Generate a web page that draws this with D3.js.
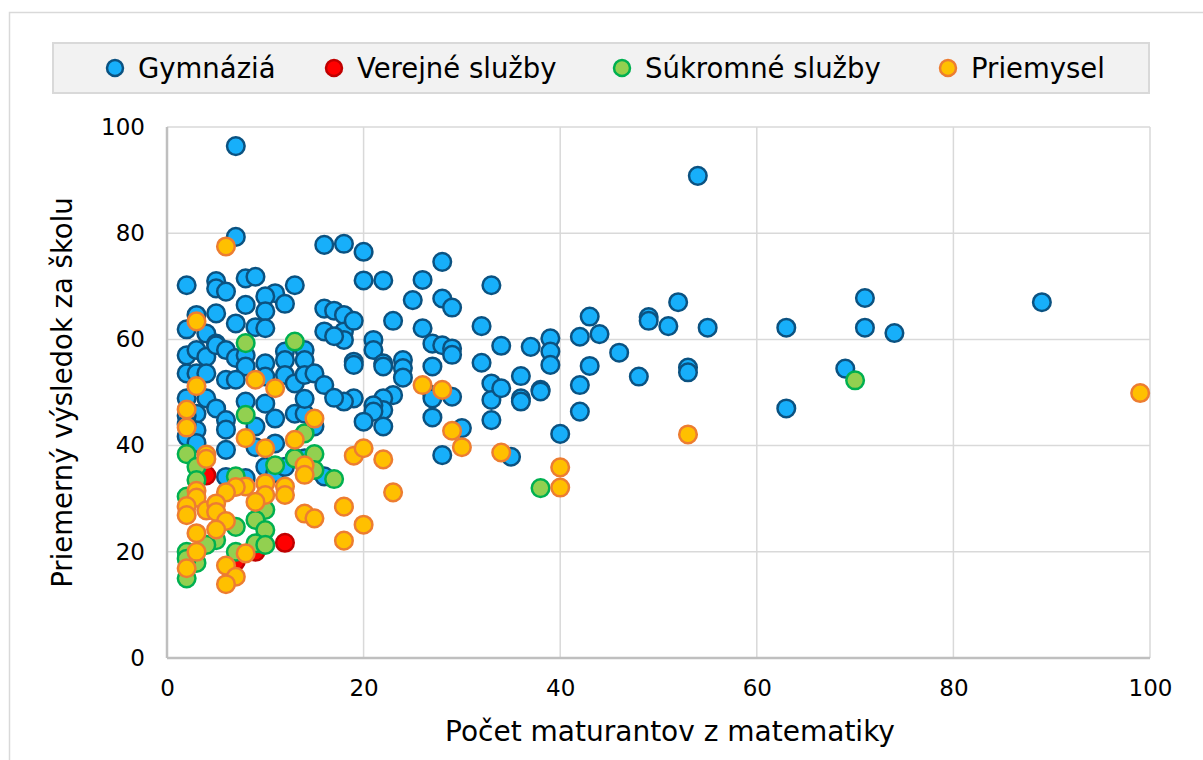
<!DOCTYPE html>
<html>
<head>
<meta charset="utf-8">
<script src="https://cdn.jsdelivr.net/npm/d3@7"></script>
<style>
  html, body { margin: 0; padding: 0; background: #fff; }
  svg { display: block; font-family: "DejaVu Sans", Verdana, sans-serif; }
</style>
</head>
<body>
<svg id="chart" width="1203" height="760"></svg>
<script>
// ---- DATA ----
const seriesNames = ["Gymnáziá", "Verejné služby", "Súkromné služby", "Priemysel"];
const xTicks = [0, 20, 40, 60, 80, 100];
const yTicks = [0, 20, 40, 60, 80, 100];
const xTitle = "Počet maturantov z matematiky";
const yTitle = "Priemerný výsledok za školu";

// [počet maturantov, priemerný výsledok]
const gymnazia = [
  [7,96.4],[7,79.3],[2,70.2],[5,71],[5,69.6],[6,69],[8,71.5],[9,71.8],[13,70.2],[16,77.8],[18,78],
  [11,68.7],[10,68.1],[12,66.7],[8,66.5],[10,65.3],[5,64.9],[3,64.6],[7,63],[2,61.9],[4,61.1],[5,59.2],
  [9,62.3],[10,62.1],[16,65.8],[17,65.4],[18,64.6],[18,61.5],[18,59.9],[16,61.5],[17,60.6],[19,63.5],
  [20,76.5],[28,74.6],[20,71.1],[22,71.1],[26,71.2],[33,70.2],[25,67.4],[28,67.7],[29,66],[23,63.5],
  [26,62.1],[32,62.5],[21,59.9],[21,58],[27,59.2],[28,58.9],[29,58.3],[29,57.1],[34,58.8],[37,58.6],
  [39,60.2],[39,57.7],[39,55.2],[42,60.5],[43,64.3],[19,55.8],[19,55.2],[22,55.5],[22,54.9],[24,56.1],
  [24,54.6],[24,52.8],[27,54.9],[32,55.6],[36,53.1],[43,55],[23,49.5],[22,48.9],[22,46.7],[21,47.6],
  [21,46.4],[19,48.9],[18,48.3],[27,49.5],[27,48.9],[29,49.2],[33,51.7],[33,48.6],[34,50.8],[36,48.9],
  [36,48.3],[38,50.5],[38,50.2],[42,51.4],[42,46.4],[40,42.2],[20,44.5],[22,43.6],[27,45.3],[30,43.3],
  [33,44.8],[28,38.2],[35,37.9],
  [44,61],[46,57.5],[48,53],[49,64.2],[49,63.5],[51,62.5],[52,67],[53,54.7],[53,53.8],[54,90.8],
  [55,62.2],[63,62.2],[63,47],[69,54.5],[71,67.8],[71,62.2],[74,61.2],[89,67],
  [2,57],[3,58],[4,56.7],[5,58.9],[6,58],[7,56.5],[8,57],[8,54.9],[10,55.5],[12,57.7],[12,56.1],
  [14,58],[14,56.1],[2,53.6],[3,53.6],[4,53.6],[6,52.4],[7,52.4],[10,53],[12,53.3],[13,51.7],[14,53.3],
  [15,53.6],[16,51.4],[17,49],[2,48.9],[3,46],[4,48.9],[5,47],[6,44.8],[6,43],[8,48.3],[10,47.9],
  [11,45.1],[9,43.6],[2,45.6],[2,41.7],[3,42.9],[6,39.2],[9,39.7],[11,40.4],[13,46],[14,46],[15,43.6],
  [13,37.7],[10,36],[11,34.8],[16,34.2],[6,34.1],[8,33.9],[12,36],[14,37.6],[14,48.8],[2,44],[3,40.5]
];
const verejne = [[4,34.4],[12,21.7],[7,18.2],[9,20]];
const sukromne = [
  [8,59.3],[13,59.6],[8,45.8],[14,42.3],[2,38.4],[15,38.4],[3,36],[11,36.3],[13,37.6],[15,35.4],
  [17,33.7],[7,34.2],[3,33.5],[2,30.4],[10,27.9],[9,26],[7,24.7],[10,24.1],[5,22.2],[9,21.6],
  [10,21.3],[2,20],[7,20],[3,17.9],[2,15],[4,21.3],[2,18.7],[70,52.3],[38,32]
];
const priemysel = [
  [6,77.5],[3,63.4],[3,51.2],[9,52.4],[11,50.8],[2,46.8],[2,43.4],[15,45.1],[8,41.4],[13,41.1],
  [10,39.5],[4,38.3],[4,37.5],[14,36.3],[14,34.5],[10,32.9],[12,32.3],[12,30.7],[10,30.7],[8,32.3],
  [7,32.2],[6,31.2],[9,29.4],[3,31.5],[3,30.2],[2,28.6],[2,26.9],[4,27.8],[5,29.1],[5,27.5],[6,25.8],
  [5,24.2],[3,23.5],[3,20],[8,19.7],[2,16.9],[6,17.4],[7,15.3],[6,13.9],[18,28.5],[14,27.2],[15,26.3],
  [18,22.1],[19,38.1],[20,39.5],[22,37.4],[23,31.2],[20,25.1],[26,51.4],[28,50.5],[29,42.8],[30,39.7],
  [34,38.7],[40,35.9],[40,32.1],[53,42.1],[99,49.9]
];

// ---- STYLE ----
const styles = [
  { fill: "#17affa", stroke: "#0b5281" },
  { fill: "#ff0000", stroke: "#c00000" },
  { fill: "#92d050", stroke: "#00b050" },
  { fill: "#ffc000", stroke: "#ed7d31" }
];
const seriesData = [gymnazia, verejne, sukromne, priemysel];

const svg = d3.select("#chart");
const plot = { left: 167, right: 1150, top: 127, bottom: 658 };

// outer chart border
svg.append("rect").attr("x", 9.5).attr("y", 12.5).attr("width", 1220).attr("height", 780)
  .attr("fill", "#fff").attr("stroke", "#d9d9d9").attr("stroke-width", 1.5);

const x = d3.scaleLinear().domain([0, 100]).range([plot.left, plot.right]);
const y = d3.scaleLinear().domain([0, 100]).range([plot.bottom, plot.top]);

// gridlines
const grid = svg.append("g");
grid.selectAll("line.h").data(yTicks.filter(d => d > 0)).join("line")
  .attr("x1", plot.left).attr("x2", plot.right)
  .attr("y1", d => y(d)).attr("y2", d => y(d))
  .attr("stroke", "#d9d9d9").attr("stroke-width", 1.5);
grid.selectAll("line.v").data(xTicks.filter(d => d > 0)).join("line")
  .attr("y1", plot.top).attr("y2", plot.bottom)
  .attr("x1", d => x(d)).attr("x2", d => x(d))
  .attr("stroke", "#d9d9d9").attr("stroke-width", 1.5);

// axes lines (left, bottom)
svg.append("line").attr("x1", plot.left).attr("x2", plot.left).attr("y1", plot.top).attr("y2", plot.bottom)
  .attr("stroke", "#bfbfbf").attr("stroke-width", 2.5);
svg.append("line").attr("x1", plot.left).attr("x2", plot.right).attr("y1", plot.bottom).attr("y2", plot.bottom)
  .attr("stroke", "#bfbfbf").attr("stroke-width", 2.5);

// axes tick labels via d3 axes
const xAxis = d3.axisBottom(x).tickValues(xTicks).tickSize(0).tickPadding(22).tickFormat(d3.format("d"));
const yAxis = d3.axisLeft(y).tickValues(yTicks).tickSize(0).tickPadding(22).tickFormat(d3.format("d"));
const gx = svg.append("g").attr("transform", `translate(0,${plot.bottom})`).call(xAxis);
const gy = svg.append("g").attr("transform", `translate(${plot.left},0)`).call(yAxis);
[gx, gy].forEach(g => {
  g.select(".domain").remove();
  g.selectAll("text").attr("font-size", 23).attr("font-family", '"DejaVu Sans", sans-serif').attr("fill", "#000");
});

// markers
const r = 8.8;
seriesData.forEach((data, i) => {
  svg.append("g").selectAll("circle").data(data).join("circle")
    .attr("cx", d => x(d[0])).attr("cy", d => y(d[1])).attr("r", r)
    .attr("fill", styles[i].fill).attr("stroke", styles[i].stroke).attr("stroke-width", 2.5);
});

// axis titles
svg.append("text").attr("x", 670).attr("y", 741)
  .attr("text-anchor", "middle").attr("font-size", 28).attr("fill", "#000").text(xTitle);
svg.append("text").attr("transform", `translate(72,${(plot.top + plot.bottom) / 2}) rotate(-90)`)
  .attr("text-anchor", "middle").attr("font-size", 27.5).attr("fill", "#000").text(yTitle);

// legend
svg.append("rect").attr("x", 53).attr("y", 43).attr("width", 1096).attr("height", 50)
  .attr("fill", "#f2f2f2").attr("stroke", "#d9d9d9").attr("stroke-width", 2);
const legendX = [115, 334, 622, 948];
const lg = svg.append("g").selectAll("g").data(seriesNames).join("g")
  .attr("transform", (d, i) => `translate(${legendX[i]},68)`);
lg.append("circle").attr("r", 8).attr("fill", (d, i) => styles[i].fill)
  .attr("stroke", (d, i) => styles[i].stroke).attr("stroke-width", 2.5);
lg.append("text").attr("x", 23).attr("y", 10).attr("font-size", 27.5).attr("fill", "#000").text(d => d);
</script>
</body>
</html>
